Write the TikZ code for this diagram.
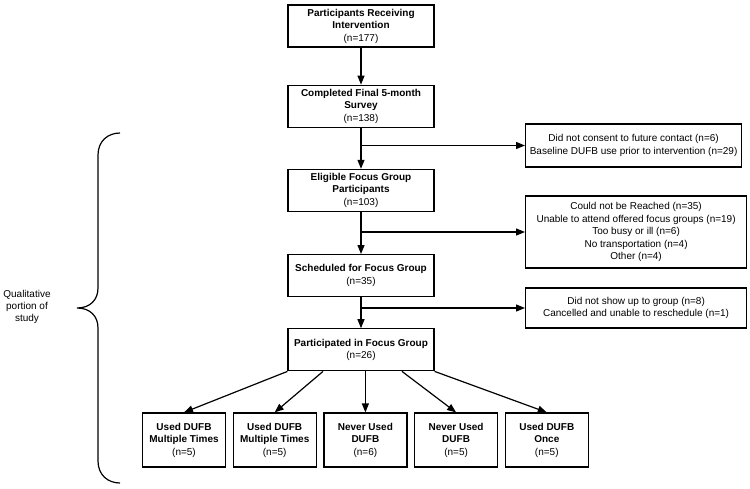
\documentclass[tikz,border=0pt]{standalone}
\usepackage{fontspec}
\setmainfont{Liberation Sans}
\usepackage{tikz}
\usetikzlibrary{arrows.meta,positioning}

\begin{document}
\begin{tikzpicture}[x=1pt, y=-1pt, line width=1.2pt,
    stage/.style = {draw, align=center, minimum width=146pt, minimum height=42pt, inner sep=0pt, font=\fontsize{10}{12.5}\selectfont},
    excluded/.style = {draw, align=center, anchor=west, minimum width=221pt, inner sep=0pt, font=\fontsize{10}{12.5}\selectfont},
    outcome/.style = {draw, align=center, minimum width=83pt, minimum height=54pt, inner sep=0pt, font=\fontsize{10}{12.5}\selectfont},
    flow/.style = {-{Triangle[length=9pt, width=7pt]}}]
    \useasboundingbox (0,0) rectangle (750,488);

    % main chain
    \node[stage] (recv) at (361,26) {\textbf{Participants Receiving}\\\textbf{Intervention}\\(n=177)};
    \node[stage, below=37pt of recv] (survey) {\textbf{Completed Final 5-month}\\\textbf{Survey}\\(n=138)};
    \node[stage, below=41pt of survey] (eligible) {\textbf{Eligible Focus Group}\\\textbf{Participants}\\(n=103)};
    \node[stage, below=42pt of eligible] (sched) {\textbf{Scheduled for Focus Group}\\(n=35)};
    \node[stage, below=31pt of sched] (partic) {\textbf{Participated in Focus Group}\\(n=26)};

    % exclusions
    \node[excluded, minimum width=216pt, minimum height=43pt] (excl1) at (525,145.5) {Did not consent to future contact (n=6)\\Baseline DUFB use prior to intervention (n=29)};
    \node[excluded, minimum height=72pt] (excl2) at (525,232) {Could not be Reached (n=35)\\Unable to attend offered focus groups (n=19)\\Too busy or ill (n=6)\\No transportation (n=4)\\Other (n=4)};
    \node[excluded, minimum height=40pt] (excl3) at (525,308) {Did not show up to group (n=8)\\Cancelled and unable to reschedule (n=1)};

    % focus groups
    \node[outcome] (grp1) at (184,440) {\textbf{Used DUFB}\\\textbf{Multiple Times}\\(n=5)};
    \node[outcome, right=6.5pt of grp1] (grp2) {\textbf{Used DUFB}\\\textbf{Multiple Times}\\(n=5)};
    \node[outcome, right=6.5pt of grp2] (grp3) {\textbf{Never Used}\\\textbf{DUFB}\\(n=6)};
    \node[outcome, right=6.5pt of grp3] (grp4) {\textbf{Never Used}\\\textbf{DUFB}\\(n=5)};
    \node[outcome, right=6.5pt of grp4] (grp5) {\textbf{Used DUFB}\\\textbf{Once}\\(n=5)};

    \coordinate (split1) at (survey.south |- excl1.west);
    \coordinate (split2) at (eligible.south |- excl2.west);
    \coordinate (split3) at (sched.south |- excl3.west);

    \draw[flow] (recv) -- (survey);
    \draw[flow] (survey) -- (eligible);
    \draw[flow] (eligible) -- (sched);
    \draw[flow] (sched) -- (partic);
    \draw[flow] (split1) -- (excl1.west);
    \draw[flow] (split2) -- (excl2.west);
    \draw[flow] (split3) -- (excl3.west);

    \draw[flow] (partic.south west) -- (grp1.north);
    \draw[flow] ([xshift=-38pt]partic.south) -- (grp2.north);
    \draw[flow] (partic.south -| grp3.north) -- (grp3.north);
    \draw[flow] ([xshift=41pt]partic.south) -- (grp4.north);
    \draw[flow] (partic.south east) -- (grp5.north);

    % brace
    \draw (120,133) .. controls (108,133) and (98,141) .. (98,155) -- (98,288)
        .. controls (98,300) and (90,308) .. (77,308)
        .. controls (90,308) and (98,316) .. (98,328) -- (98,461)
        .. controls (98,475) and (108,483) .. (120,483);
    \node[align=center, font=\fontsize{10}{12}\selectfont] (qual) at (27,307) {Qualitative\\portion of\\study};
\end{tikzpicture}
\end{document}
